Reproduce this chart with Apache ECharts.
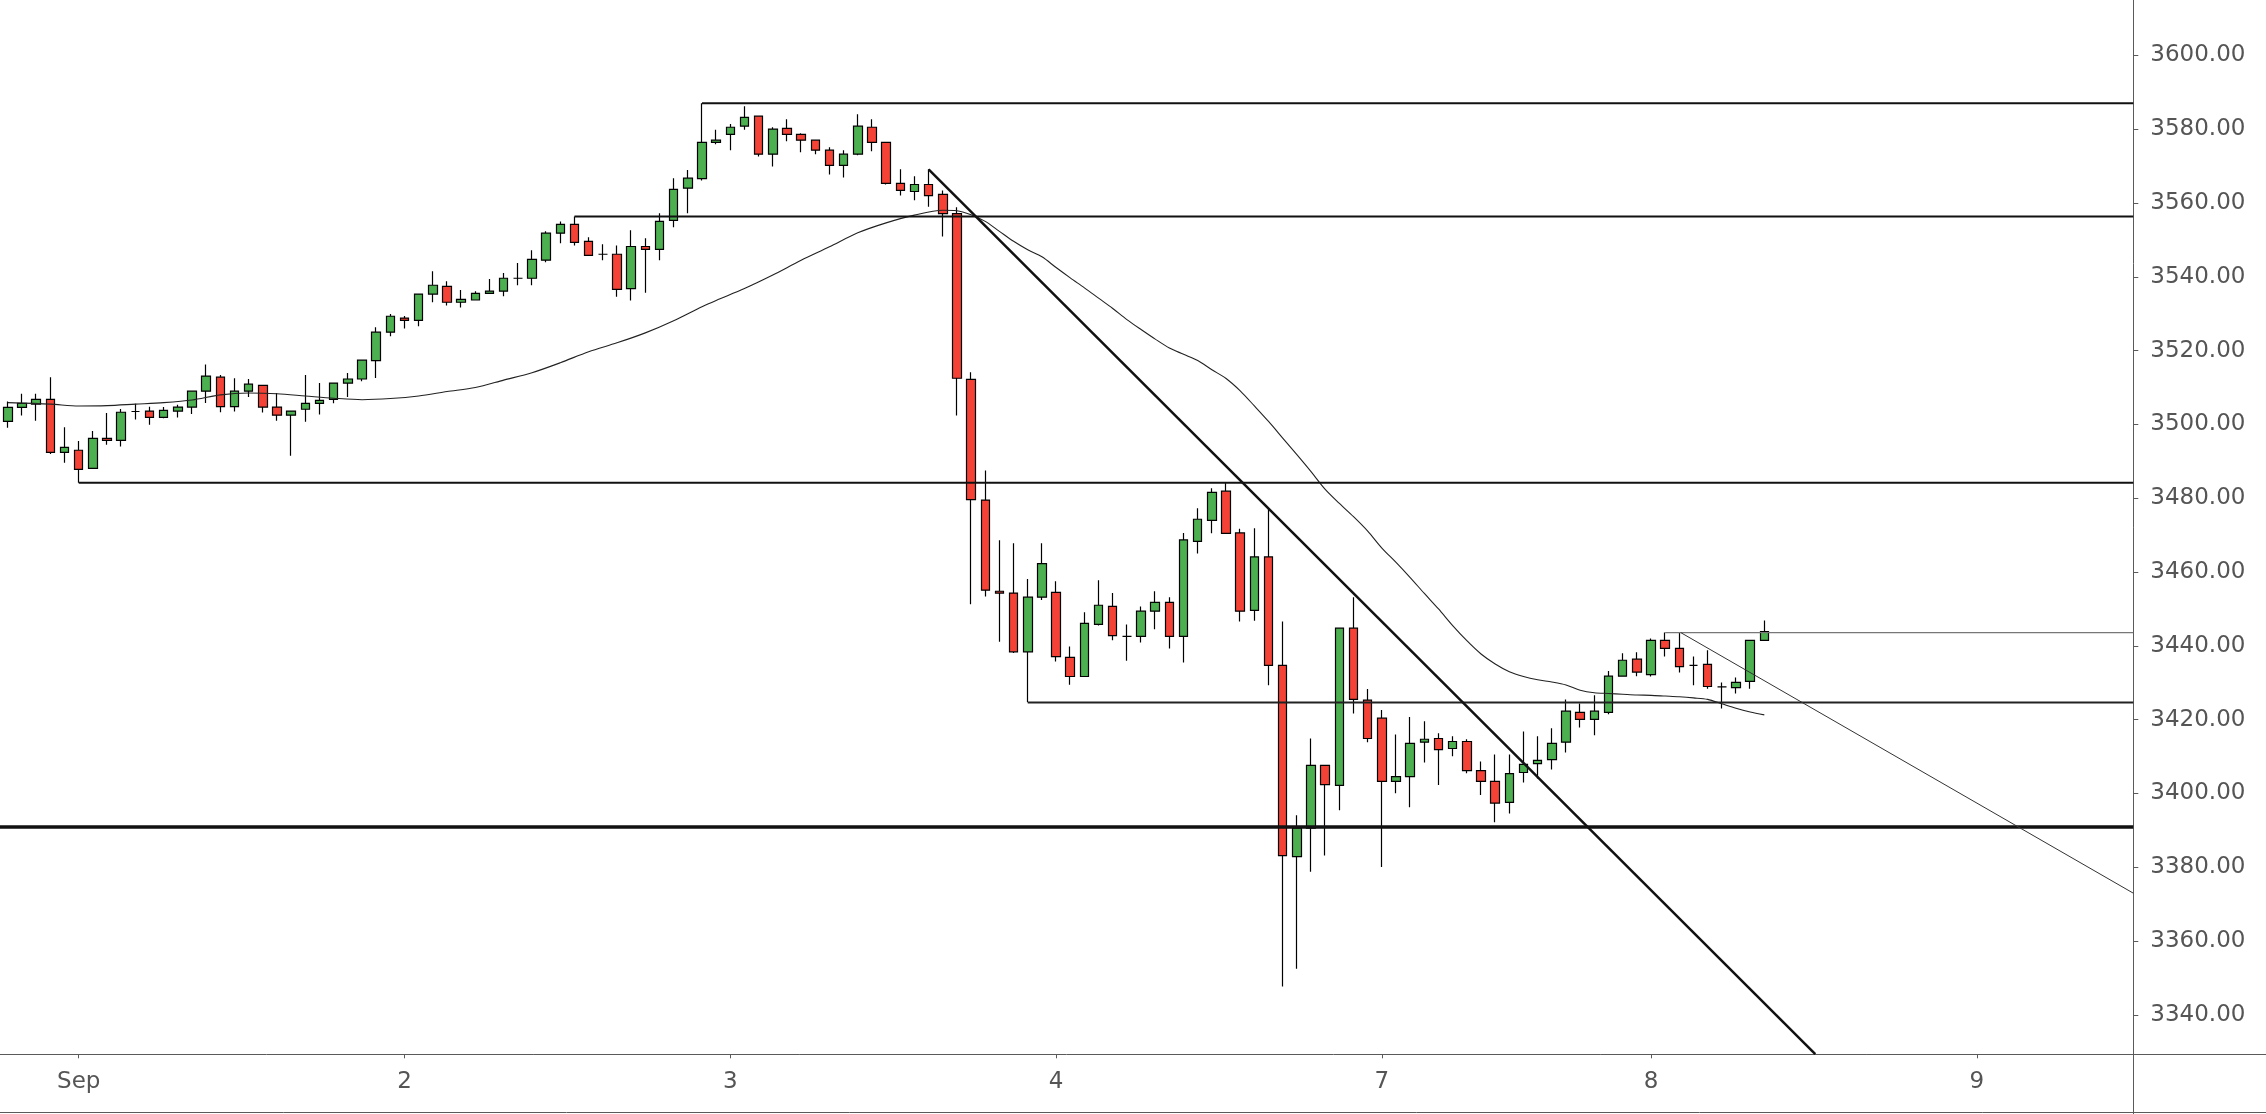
<!DOCTYPE html>
<html><head><meta charset="utf-8">
<script src="https://cdn.jsdelivr.net/npm/echarts@6/dist/echarts.min.js"></script>
<style>html,body{margin:0;padding:0;background:#fff}#c{width:2266px;height:1114px}</style>
</head><body><div id="c"></div>
<script>
// hourly candles, index 0 = first candle on the chart
const opens = [3500.8,3504.6,3505.5,3506.8,3492.4,3493.0,3488.1,3496.2,3495.7,3503.5,
3503.6,3501.9,3503.6,3504.7,3509.0,3512.8,3504.8,3509.0,3510.6,3504.7,
3502.5,3504.1,3505.7,3506.8,3511.2,3512.3,3517.3,3525.0,3528.8,3528.2,
3535.3,3537.4,3533.1,3533.7,3535.5,3536.1,3539.6,3539.6,3544.5,3551.8,
3554.2,3549.6,3546.1,3546.1,3536.8,3548.2,3547.4,3555.3,3564.0,3566.6,
3576.4,3578.6,3580.8,3583.5,3573.2,3580.2,3578.6,3577.0,3574.3,3570.2,
3573.2,3580.5,3576.4,3565.3,3563.1,3565.0,3562.3,3557.1,3512.2,3479.5,
3454.8,3454.3,3438.4,3453.2,3454.5,3436.9,3431.7,3445.8,3450.7,3442.6,
3442.6,3449.4,3451.8,3442.6,3468.3,3474.0,3481.9,3470.6,3449.6,3464.1,
3434.7,3382.9,3390.6,3407.6,3402.2,3444.8,3425.3,3420.4,3403.3,3404.6,
3413.9,3414.9,3412.2,3414.1,3406.2,3403.3,3397.6,3405.7,3408.1,3409.2,
3413.9,3422.0,3420.1,3422.0,3431.8,3436.4,3432.2,3441.5,3439.3,3434.7,
3435.0,3428.9,3428.7,3430.4,3441.5];
const closes = [3504.6,3505.7,3506.8,3492.4,3493.8,3487.8,3496.2,3495.7,3503.3,3503.5,
3501.9,3503.8,3504.7,3509.0,3513.1,3504.8,3509.0,3510.9,3504.7,3502.5,
3503.6,3505.7,3506.5,3511.2,3512.3,3517.4,3525.0,3529.3,3528.2,3535.3,
3537.7,3533.1,3533.9,3535.5,3536.1,3539.6,3539.6,3544.7,3551.8,3554.2,
3549.3,3545.8,3546.1,3536.6,3548.2,3547.4,3555.0,3563.7,3566.7,3576.4,
3577.0,3580.5,3583.2,3573.2,3580.0,3578.6,3577.0,3574.3,3570.2,3573.2,
3580.8,3576.4,3565.3,3563.4,3565.0,3562.0,3557.1,3512.5,3479.6,3455.1,
3454.3,3438.4,3453.2,3462.3,3437.1,3431.7,3446.1,3451.0,3442.8,3442.6,
3449.4,3451.8,3442.6,3468.7,3474.3,3481.6,3470.5,3449.4,3464.1,3434.7,
3383.2,3390.6,3407.6,3402.4,3444.8,3425.5,3414.9,3403.3,3404.6,3413.6,
3414.7,3411.9,3414.1,3406.2,3403.3,3397.4,3405.4,3407.9,3409.0,3413.6,
3422.3,3420.1,3422.3,3431.8,3436.1,3432.9,3441.5,3439.3,3434.4,3434.7,
3429.0,3428.9,3430.1,3441.5,3443.9];
const lows = [3499.1,3502.4,3501.0,3492.0,3489.6,3484.2,3488.1,3494.5,3494.0,3501.3,
3499.9,3501.7,3501.9,3502.8,3505.8,3503.3,3503.5,3507.4,3503.2,3501.0,
3491.5,3500.7,3502.7,3505.7,3507.4,3511.7,3512.6,3523.9,3526.0,3526.6,
3533.1,3532.2,3531.7,3533.7,3535.3,3534.7,3537.7,3537.7,3543.9,3549.1,
3548.5,3545.8,3544.5,3534.6,3533.6,3535.7,3544.5,3553.4,3557.2,3566.1,
3575.9,3574.3,3579.8,3572.6,3569.9,3576.7,3573.7,3573.2,3567.7,3566.9,
3572.9,3574.0,3565.0,3562.0,3560.7,3559.0,3550.9,3502.4,3451.3,3453.4,
3441.1,3438.1,3424.7,3452.4,3435.8,3429.5,3431.7,3445.5,3441.5,3436.0,
3440.9,3444.5,3439.3,3435.5,3465.0,3470.5,3470.5,3446.6,3446.8,3429.3,
3347.7,3352.5,3378.8,3383.2,3395.5,3421.7,3413.9,3380.1,3400.1,3396.3,
3408.4,3402.3,3410.1,3405.5,3399.6,3392.2,3394.6,3403.0,3404.1,3406.5,
3411.1,3417.9,3415.8,3421.5,3431.8,3431.8,3431.7,3437.1,3432.8,3429.3,
3428.4,3423.0,3427.1,3428.4,3441.5];
const highs = [3506.2,3508.3,3508.3,3512.8,3499.2,3495.5,3498.2,3503.1,3504.2,3505.6,
3504.8,3504.7,3505.3,3509.0,3516.2,3513.4,3512.5,3512.3,3510.6,3508.5,
3503.6,3513.4,3511.2,3511.2,3513.9,3517.4,3526.3,3529.9,3529.4,3535.3,
3541.5,3538.8,3536.4,3536.1,3539.4,3541.0,3543.7,3547.2,3552.3,3555.0,
3556.3,3550.7,3548.8,3548.5,3552.6,3550.4,3557.2,3566.7,3568.9,3587.0,
3579.8,3581.4,3586.2,3583.5,3580.5,3582.7,3578.9,3577.0,3575.1,3574.3,
3584.0,3582.7,3576.4,3569.1,3567.2,3569.1,3563.4,3558.8,3514.1,3487.5,
3468.6,3467.8,3458.1,3467.8,3457.5,3439.8,3449.1,3457.8,3454.3,3445.8,
3450.7,3454.8,3453.2,3470.6,3477.3,3482.7,3484.2,3471.7,3471.9,3477.4,
3446.6,3394.1,3414.9,3407.8,3445.0,3453.2,3428.3,3422.6,3416.0,3420.7,
3419.6,3416.3,3415.5,3414.7,3408.7,3410.6,3410.6,3416.8,3415.5,3417.7,
3425.5,3424.4,3426.6,3433.2,3438.0,3438.3,3442.0,3443.6,3443.6,3437.1,
3438.8,3430.1,3431.4,3441.5,3446.9];

// moving average: candle index and value
const maIndex = [0,3,5,7,9,11,13,15,17,19,21,23,25,27,29,31,33,35,37,39,41,43,45,47,49,50,52,54,56,58,60,62,64,66,
67,68,69,70,71,72,73,74,75,76,77,78,79,80,81,82,83,84,85,86,87,88,89,90,91,92,93,94,95,96,97,98,99,100,
101,102,103,104,105,106,107,108,109,110,111,112,113,114,115,116,117,118,119,120,121,122,123,124];
const maValues = [3505.9,3505.5,3505.0,3505.1,3505.5,3505.9,3506.6,3508.0,3508.5,3508.3,3507.7,3507.1,3506.7,3507.0,
3507.7,3508.9,3510.0,3512.0,3514.0,3516.7,3519.7,3522.1,3524.8,3528.1,3531.9,3533.6,3536.8,3540.45,3544.45,
3548.1,3551.9,3554.6,3556.7,3558.0,
3557.9,3556.8,3555.0,3552.3,3549.6,3547.3,3545.4,3542.5,3539.7,3537.0,3534.2,3531.4,3528.4,3525.7,3523.1,
3520.7,3519.0,3517.3,3514.8,3512.45,3509.1,3505.0,3500.8,3496.3,3491.8,3487.2,3482.4,3478.6,3475.0,3471.1,
3466.5,3462.6,3458.5,3454.2,3450.0,3445.5,3441.4,3437.8,3435.1,3433.0,3431.7,3430.8,3430.2,3429.4,3428.0,
3427.3,3427.1,3426.9,3426.7,3426.6,3426.4,3426.2,3425.9,3425.5,3424.3,3423.1,3422.1,3421.3];

// x axis day labels (candle index where each day starts)
const dayTickIndex = [5, 28, 51, 74, 97, 116, 139];
const dayTickLabels = ['Sep', '2', '3', '4', '7', '8', '9'];
// y axis tick labels
const priceTicks = [3340,3360,3380,3400,3420,3440,3460,3480,3500,3520,3540,3560,3580,3600];

// horizontal levels: start candle index and price
const levelStart = [49, 40, 5, 72, -1, 117];
const levelPrice = [3587.0, 3556.3, 3484.2, 3424.65, 3390.9, 3443.6];
// trend lines: [candle index, price] endpoints
const trendMain = [[65, 3569.1], [127.6, 3329.4]];
const trendMinor = [[118.1, 3443.6], [150.05, 3373.0]];

// ---- view / styles ----
const X_MIN = -0.558, X_MAX = 150.05;
const Y_MIN = 3329.35, Y_MAX = 3614.98;
const levelWidths = [2, 2, 2, 2, 3.5, 1.2];
const levelColors = ['#111', '#111', '#111', '#222', '#111', '#777'];
const AXIS_COLOR = '#5a5a5a';
const TXT = '#555';
const FONT = 'DejaVu Sans';

const candleData = opens.map((o, i) => [i, o, closes[i], lows[i], highs[i]]);

const series = [{
  type: 'candlestick',
  data: candleData,
  encode: { x: 0, y: [1, 2, 3, 4] },
  barWidth: 9,
  z: 2,
  itemStyle: {
    color: '#4caf50', color0: '#f44336',
    borderColor: '#000', borderColor0: '#000', borderColorDoji: '#000',
    borderWidth: 1.2
  }
}, {
  type: 'line',
  data: maIndex.map((x, i) => [x, maValues[i]]),
  smooth: 0.3, symbol: 'none', z: 3,
  lineStyle: { color: '#222', width: 1.1 }
}];
levelPrice.forEach((p, k) => {
  series.push({
    type: 'line', symbol: 'none', z: 4, clip: true,
    data: [[levelStart[k], p], [X_MAX, p]],
    lineStyle: { color: levelColors[k], width: levelWidths[k] }
  });
});
series.push({ type: 'line', symbol: 'none', z: 4, clip: true, data: trendMain,
  lineStyle: { color: '#111', width: 2.5 } });
series.push({ type: 'line', symbol: 'none', z: 4, clip: true, data: trendMinor,
  lineStyle: { color: '#333', width: 1 } });

const chart = echarts.init(document.getElementById('c'), null, { renderer: 'canvas' });
chart.setOption({
  animation: false,
  backgroundColor: '#fff',
  grid: { left: 0, top: 0, right: 132.7, bottom: 59.7 },
  xAxis: {
    type: 'value', min: X_MIN, max: X_MAX,
    splitLine: { show: false },
    axisLine: { show: true, onZero: false, lineStyle: { color: AXIS_COLOR, width: 1 } },
    axisTick: { show: true, length: 4, customValues: dayTickIndex, lineStyle: { color: AXIS_COLOR } },
    axisLabel: {
      customValues: dayTickIndex,
      formatter: v => dayTickLabels[dayTickIndex.indexOf(v)] || '',
      margin: 16, fontFamily: FONT, fontSize: 23, color: TXT
    }
  },
  yAxis: {
    type: 'value', position: 'right', min: Y_MIN, max: Y_MAX, scale: true,
    splitLine: { show: false },
    axisLine: { show: true, onZero: false, lineStyle: { color: AXIS_COLOR, width: 1 } },
    axisTick: { show: true, length: 5, customValues: priceTicks, lineStyle: { color: AXIS_COLOR } },
    axisLabel: {
      customValues: priceTicks,
      formatter: v => v.toFixed(2),
      margin: 17, fontFamily: FONT, fontSize: 23, color: TXT
    }
  },
  graphic: [
    { type: 'line', shape: { x1: 2133, y1: 1054.5, x2: 2266, y2: 1054.5 }, style: { stroke: AXIS_COLOR, lineWidth: 1 } },
    { type: 'line', shape: { x1: 2133.5, y1: 1054, x2: 2133.5, y2: 1114 }, style: { stroke: AXIS_COLOR, lineWidth: 1 } },
    { type: 'line', shape: { x1: 0, y1: 1112.5, x2: 2266, y2: 1112.5 }, style: { stroke: AXIS_COLOR, lineWidth: 1 } }
  ],
  series: series
});
</script></body></html>
